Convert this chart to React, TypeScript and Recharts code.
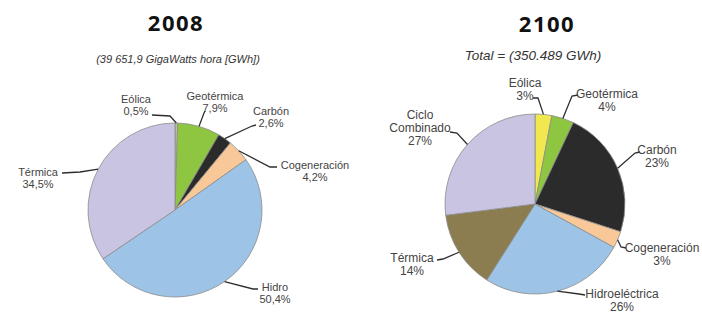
import { PieChart, Pie, Cell } from "recharts";

// 2008 generation mix (%)
const NAMES_2008 = ["Eólica", "Geotérmica", "Carbón", "Cogeneración", "Hidro", "Térmica"];
const VALUES_2008 = [0.5, 7.9, 2.6, 4.2, 50.4, 34.5];
const COLORS_2008 = ["#c6bf9c", "#8fc641", "#2b2b2b", "#f9c899", "#9dc3e6", "#c9c4e1"];

// 2100 projected mix (%)
const NAMES_2100 = ["Eólica", "Geotérmica", "Carbón", "Cogeneración", "Hidroeléctrica", "Térmica", "Ciclo Combinado"];
const VALUES_2100 = [3, 4, 23, 3, 26, 14, 27];
const COLORS_2100 = ["#f1e84f", "#8fc641", "#2b2b2b", "#f9c899", "#9dc3e6", "#8b7d50", "#c9c4e1"];

const TITLE_2008 = "2008";
const SUBTITLE_2008 = "(39 651,9 GigaWatts hora [GWh])";
const TITLE_2100 = "2100";
const SUBTITLE_2100 = "Total = (350.489 GWh)";

// label placement, offsets from pie centre: text x / first baseline, leader end and elbow
const LAYOUT_2008 = [
  { tx: -39, ty: -107, end: [-23, -95], elbow: [-5, -94] },
  { tx: 40, ty: -110, end: [30, -99], elbow: [29, -97] },
  { tx: 96, ty: -95, end: [81, -85], elbow: [77, -84] },
  { tx: 140, ty: -41, end: [102, -43], elbow: [95, -43] },
  { tx: 100, ty: 81, end: [83, 79], elbow: [78, 79] },
  { tx: -137, ty: -34, end: [-113, -37], elbow: [-95, -38] },
];
const LAYOUT_2100 = [
  { tx: -10, ty: -117, end: [-2, -106], elbow: [3, -106] },
  { tx: 72, ty: -106, end: [43, -109], elbow: [37, -108] },
  { tx: 122, ty: -50, end: [105, -52], elbow: [100, -51] },
  { tx: 127, ty: 48, end: [91, 44], elbow: [86, 43] },
  { tx: 87, ty: 94, end: [50, 91], elbow: [44, 90] },
  { tx: -123, ty: 58, end: [-98, 56], elbow: [-92, 55] },
  { tx: -115, ty: -85, end: [-85, -72], elbow: [-78, -71] },
];

const RAD = Math.PI / 180;
const fmtPct = (v: number) => `${String(v).replace(".", ",")}%`;

function makeLabel(layout: typeof LAYOUT_2008, fontSize: number, lineH: number) {
  return (props: any) => {
    const { cx, cy, midAngle, outerRadius, index, name, value } = props;
    const l = layout[index];
    const sx = cx + outerRadius * Math.cos(-midAngle * RAD);
    const sy = cy + outerRadius * Math.sin(-midAngle * RAD);
    const lines = [...String(name).split(" "), fmtPct(value)];
    return (
      <g key={`lbl-${index}`}>
        <polyline
          points={`${sx},${sy} ${cx + l.elbow[0]},${cy + l.elbow[1]} ${cx + l.end[0]},${cy + l.end[1]}`}
          fill="none"
          stroke="#2e2e2e"
          strokeWidth={1.3}
        />
        <text
          x={cx + l.tx}
          y={cy + l.ty}
          textAnchor="middle"
          fontSize={fontSize}
          fontFamily="'Liberation Sans', Arial, sans-serif"
          fill="#444"
        >
          {lines.map((t, i) => (
            <tspan key={i} x={cx + l.tx} dy={i === 0 ? 0 : lineH}>
              {t}
            </tspan>
          ))}
        </text>
      </g>
    );
  };
}

export default function App() {
  const data2008 = NAMES_2008.map((n, i) => ({ name: n, value: VALUES_2008[i] }));
  const data2100 = NAMES_2100.map((n, i) => ({ name: n, value: VALUES_2100[i] }));

  return (
    <div style={{ position: "absolute", left: 0, top: 0, width: 702, height: 314, background: "#fff", overflow: "hidden" }}>
      <PieChart width={702} height={314}>
        <Pie
          data={data2008}
          dataKey="value"
          nameKey="name"
          cx={170}
          cy={205}
          outerRadius={87}
          startAngle={90}
          endAngle={-270}
          stroke="#8c8c8c"
          strokeWidth={0.8}
          labelLine={false}
          label={makeLabel(LAYOUT_2008, 11, 12)}
          isAnimationActive={false}
        >
          {data2008.map((d, i) => (
            <Cell key={d.name} fill={COLORS_2008[i]} />
          ))}
        </Pie>
        <Pie
          data={data2100}
          dataKey="value"
          nameKey="name"
          cx={530}
          cy={199}
          outerRadius={90}
          startAngle={90}
          endAngle={-270}
          stroke="#8c8c8c"
          strokeWidth={0.8}
          labelLine={false}
          label={makeLabel(LAYOUT_2100, 12, 13)}
          isAnimationActive={false}
        >
          {data2100.map((d, i) => (
            <Cell key={d.name} fill={COLORS_2100[i]} />
          ))}
        </Pie>
      </PieChart>
      <svg width={702} height={314} style={{ position: "absolute", left: 0, top: 0, pointerEvents: "none" }}>
        <text x={176} y={31} textAnchor="middle" fontFamily="'Open Sans', sans-serif" fontWeight={700} fontSize={22} letterSpacing={1.5} fill="#111">
          {TITLE_2008}
        </text>
        <text x={178} y={63} textAnchor="middle" fontFamily="'Liberation Sans', sans-serif" fontStyle="italic" fontSize={11} fill="#333">
          {SUBTITLE_2008}
        </text>
        <text x={547} y={32} textAnchor="middle" fontFamily="'Open Sans', sans-serif" fontWeight={700} fontSize={22} letterSpacing={1.5} fill="#111">
          {TITLE_2100}
        </text>
        <text x={533} y={60} textAnchor="middle" fontFamily="'Liberation Sans', sans-serif" fontStyle="italic" fontSize={13.5} fill="#333">
          {SUBTITLE_2100}
        </text>
      </svg>
    </div>
  );
}
